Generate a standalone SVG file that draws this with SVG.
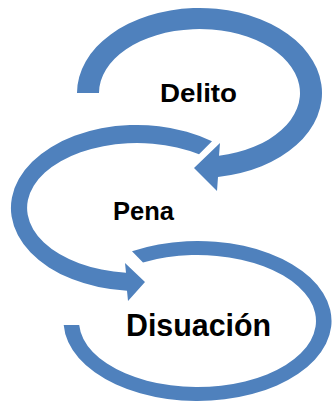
<svg xmlns="http://www.w3.org/2000/svg" width="332" height="404" viewBox="0 0 332 404">
<style>
.arc{fill:#4F81BD;stroke:none}
.lbl{font-family:"Liberation Sans",Arial,sans-serif;font-weight:bold;fill:#000;text-anchor:middle}
</style>
<rect width="332" height="404" fill="#fff"/>
<g id="delito">
<path class="arc" d="M 77 93 A 122.5 85 0 1 1 218 177 L 217 191 L 194 168 L 220 143 L 219 155.8 A 100.5 64 0 1 0 99 93 Z"/>
<text class="lbl" x="198.5" y="102" font-size="26" textLength="77" lengthAdjust="spacingAndGlyphs">Delito</text>
</g>
<g id="pena">
<path class="arc" d="M 212 141.3 A 126 83 0 1 0 127 290.7 L 128 301 L 145 282 L 125 263 L 126 272.7 A 110 65 0 1 1 199 154.3 Z"/>
<text class="lbl" x="143.5" y="220" font-size="26" textLength="61" lengthAdjust="spacingAndGlyphs">Pena</text>
</g>
<g id="disuacion">
<path class="arc" d="M 132 251.2 A 134 80 0 1 1 63.7 325 L 79.2 325 A 118.5 66 0 1 0 143 262.4 Z"/>
<text class="lbl" x="198.5" y="336" font-size="32" textLength="145" lengthAdjust="spacingAndGlyphs">Disuación</text>
</g>
<g id="connectors"/>
</svg>
